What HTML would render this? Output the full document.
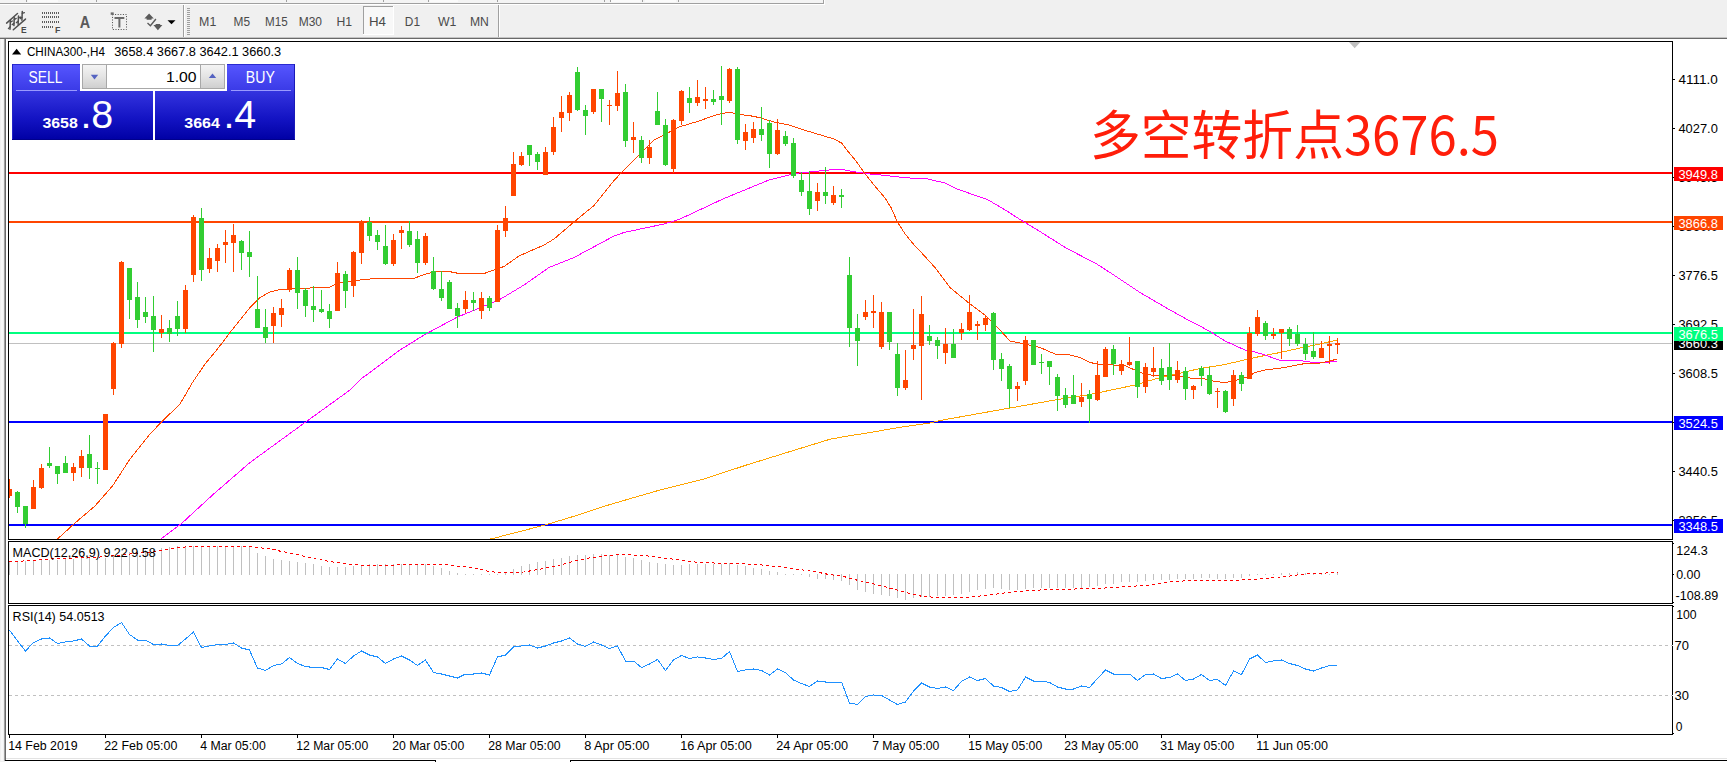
<!DOCTYPE html>
<html lang="zh"><head><meta charset="utf-8"><title>CHINA300 H4</title>
<style>html,body{margin:0;padding:0;background:#fff;overflow:hidden}body{width:1727px;height:762px;position:relative}svg{display:block;position:absolute;left:0;top:0}text{font-family:"Liberation Sans", sans-serif;white-space:pre}.c{shape-rendering:crispEdges}</style></head><body>
<svg width="1727" height="762" viewBox="0 0 1727 762">
<defs><linearGradient id="gt" x1="0" y1="0" x2="0" y2="1"><stop offset="0" stop-color="#5656ff"/><stop offset="1" stop-color="#3a3ae6"/></linearGradient><linearGradient id="gb" x1="0" y1="0" x2="0" y2="1"><stop offset="0" stop-color="#3434df"/><stop offset="0.55" stop-color="#1414c4"/><stop offset="1" stop-color="#0000a4"/></linearGradient><linearGradient id="gs" x1="0" y1="0" x2="0" y2="1"><stop offset="0" stop-color="#f4f4f4"/><stop offset="0.5" stop-color="#e4e4e4"/><stop offset="1" stop-color="#cfcfcf"/></linearGradient><clipPath id="cm"><rect x="9" y="42" width="1663" height="497"/></clipPath><clipPath id="cmacd"><rect x="9" y="542" width="1663" height="61"/></clipPath><clipPath id="crsi"><rect x="9" y="606" width="1663" height="128"/></clipPath></defs>
<g class="c">
<rect x="0" y="0" width="1727" height="762" fill="#ffffff" />
<rect x="0" y="0" width="1727" height="37" fill="#f0f0f0" />
<rect x="0" y="0" width="823" height="3" fill="#f4f4f4" />
<rect x="0" y="3" width="824" height="1" fill="#a0a0a0" />
<rect x="823" y="0" width="1" height="4" fill="#a0a0a0" />
<rect x="0" y="4" width="825" height="1" fill="#ffffff" />
<rect x="824" y="0" width="1" height="4" fill="#ffffff" />
<rect x="28" y="0" width="30" height="2" fill="#fbfbfb" />
<rect x="430" y="0" width="28" height="2" fill="#fbfbfb" />
<rect x="611" y="0" width="29" height="2" fill="#fbfbfb" />
<rect x="645" y="0" width="31" height="2" fill="#fbfbfb" />
<rect x="26" y="0" width="1" height="2" fill="#a0a0a0" />
<rect x="96" y="0" width="1" height="2" fill="#a0a0a0" />
<rect x="286" y="0" width="1" height="2" fill="#a0a0a0" />
<rect x="383" y="0" width="1" height="2" fill="#a0a0a0" />
<rect x="428" y="0" width="1" height="2" fill="#a0a0a0" />
<rect x="497" y="0" width="1" height="2" fill="#a0a0a0" />
<rect x="604" y="0" width="1" height="2" fill="#a0a0a0" />
<rect x="610" y="0" width="1" height="2" fill="#a0a0a0" />
<rect x="642" y="0" width="1" height="2" fill="#a0a0a0" />
<rect x="678" y="0" width="1" height="2" fill="#a0a0a0" />
<rect x="0" y="37" width="1727" height="1" fill="#c4c4c4" />
<rect x="0" y="38" width="1727" height="1" fill="#696969" />
<rect x="0" y="39" width="4" height="723" fill="#f0f0f0" />
<rect x="1" y="39" width="2" height="723" fill="#f8f8f8" />
<rect x="4" y="39" width="1" height="722" fill="#a0a0a0" />
<rect x="5" y="39" width="1" height="722" fill="#696969" />
<rect x="6" y="758" width="1721" height="1" fill="#e3e3e3" />
<rect x="5" y="760" width="431" height="1" fill="#000" />
<rect x="435" y="760" width="1" height="2" fill="#000" />
<rect x="570" y="760" width="1157" height="1" fill="#000" />
<rect x="570" y="760" width="1" height="2" fill="#000" />
<rect x="0" y="761" width="5" height="1" fill="#f0f0f0" />
<rect x="183" y="5" width="1" height="32" fill="#a0a0a0" />
<rect x="184" y="5" width="1" height="32" fill="#ffffff" />
<rect x="498" y="5" width="1" height="32" fill="#a0a0a0" />
<rect x="499" y="5" width="1" height="32" fill="#ffffff" />
<rect x="187" y="8" width="3" height="1" fill="#a0a0a0" />
<rect x="187" y="10" width="3" height="1" fill="#a0a0a0" />
<rect x="187" y="12" width="3" height="1" fill="#a0a0a0" />
<rect x="187" y="14" width="3" height="1" fill="#a0a0a0" />
<rect x="187" y="16" width="3" height="1" fill="#a0a0a0" />
<rect x="187" y="18" width="3" height="1" fill="#a0a0a0" />
<rect x="187" y="20" width="3" height="1" fill="#a0a0a0" />
<rect x="187" y="22" width="3" height="1" fill="#a0a0a0" />
<rect x="187" y="24" width="3" height="1" fill="#a0a0a0" />
<rect x="187" y="26" width="3" height="1" fill="#a0a0a0" />
<rect x="187" y="28" width="3" height="1" fill="#a0a0a0" />
<rect x="187" y="30" width="3" height="1" fill="#a0a0a0" />
<rect x="187" y="32" width="3" height="1" fill="#a0a0a0" />
<rect x="187" y="34" width="3" height="1" fill="#a0a0a0" />
<rect x="363" y="6" width="31" height="29" fill="#f8f8f8" />
<rect x="363" y="6" width="31" height="1" fill="#a0a0a0" />
<rect x="363" y="6" width="1" height="29" fill="#a0a0a0" />
<rect x="393" y="6" width="1" height="29" fill="#ffffff" />
<rect x="363" y="34" width="31" height="1" fill="#ffffff" />
</g>
<text x="199.1" y="26" font-size="12" fill="#4a4a4a" textLength="17.2" lengthAdjust="spacingAndGlyphs" >M1</text>
<text x="233.6" y="26" font-size="12" fill="#4a4a4a" textLength="16.5" lengthAdjust="spacingAndGlyphs" >M5</text>
<text x="265.1" y="26" font-size="12" fill="#4a4a4a" textLength="22.6" lengthAdjust="spacingAndGlyphs" >M15</text>
<text x="298.7" y="26" font-size="12" fill="#4a4a4a" textLength="23.3" lengthAdjust="spacingAndGlyphs" >M30</text>
<text x="336.5" y="26" font-size="12" fill="#4a4a4a" textLength="15.6" lengthAdjust="spacingAndGlyphs" >H1</text>
<text x="369.0" y="26" font-size="12" fill="#4a4a4a" textLength="17.0" lengthAdjust="spacingAndGlyphs" >H4</text>
<text x="404.8" y="26" font-size="12" fill="#4a4a4a" textLength="15.2" lengthAdjust="spacingAndGlyphs" >D1</text>
<text x="437.9" y="26" font-size="12" fill="#4a4a4a" textLength="18.5" lengthAdjust="spacingAndGlyphs" >W1</text>
<text x="470.0" y="26" font-size="12" fill="#4a4a4a" textLength="18.9" lengthAdjust="spacingAndGlyphs" >MN</text>
<g stroke="#505050" fill="none" stroke-linecap="round">
<path d="M6.6 23.1 L17.5 13.5 M13.3 29.8 L25.5 19.1" stroke-width="1.5"/>
<path d="M10.4 20.4 L10 29.2 M14.3 17.8 L13.9 25.6 M18.5 16 L18.1 24.4 M22.3 11.4 L21.9 20.2" stroke-width="1.5"/>
<path d="M8.4 28.6 L10.2 26.8 M10.3 22.2 L12.4 21 M12.2 24.6 L14 23.4 M14.2 19.6 L16.2 18.4 M16.4 22.6 L18.2 21.4 M18.4 17.8 L20.4 17 M20.2 18.6 L22 17.4 M22.2 13.4 L24.4 12.6" stroke-width="1.3"/>
</g>
<text x="21" y="32.7" font-size="9" fill="#4a4a4a" textLength="5.6" lengthAdjust="spacingAndGlyphs" font-weight="bold" >E</text>
<g class="c">
<rect x="42" y="12" width="1" height="2" fill="#5c5c5c" />
<rect x="44" y="12" width="1" height="2" fill="#5c5c5c" />
<rect x="46" y="12" width="1" height="2" fill="#5c5c5c" />
<rect x="48" y="12" width="1" height="2" fill="#5c5c5c" />
<rect x="50" y="12" width="1" height="2" fill="#5c5c5c" />
<rect x="52" y="12" width="1" height="2" fill="#5c5c5c" />
<rect x="54" y="12" width="1" height="2" fill="#5c5c5c" />
<rect x="56" y="12" width="1" height="2" fill="#5c5c5c" />
<rect x="58" y="12" width="1" height="2" fill="#5c5c5c" />
<rect x="42" y="16" width="1" height="2" fill="#5c5c5c" />
<rect x="44" y="16" width="1" height="2" fill="#5c5c5c" />
<rect x="46" y="16" width="1" height="2" fill="#5c5c5c" />
<rect x="48" y="16" width="1" height="2" fill="#5c5c5c" />
<rect x="50" y="16" width="1" height="2" fill="#5c5c5c" />
<rect x="52" y="16" width="1" height="2" fill="#5c5c5c" />
<rect x="54" y="16" width="1" height="2" fill="#5c5c5c" />
<rect x="56" y="16" width="1" height="2" fill="#5c5c5c" />
<rect x="58" y="16" width="1" height="2" fill="#5c5c5c" />
<rect x="42" y="21" width="1" height="2" fill="#5c5c5c" />
<rect x="44" y="21" width="1" height="2" fill="#5c5c5c" />
<rect x="46" y="21" width="1" height="2" fill="#5c5c5c" />
<rect x="48" y="21" width="1" height="2" fill="#5c5c5c" />
<rect x="50" y="21" width="1" height="2" fill="#5c5c5c" />
<rect x="52" y="21" width="1" height="2" fill="#5c5c5c" />
<rect x="54" y="21" width="1" height="2" fill="#5c5c5c" />
<rect x="56" y="21" width="1" height="2" fill="#5c5c5c" />
<rect x="58" y="21" width="1" height="2" fill="#5c5c5c" />
<rect x="42" y="26" width="1" height="2" fill="#5c5c5c" />
<rect x="44" y="26" width="1" height="2" fill="#5c5c5c" />
<rect x="46" y="26" width="1" height="2" fill="#5c5c5c" />
<rect x="48" y="26" width="1" height="2" fill="#5c5c5c" />
<rect x="50" y="26" width="1" height="2" fill="#5c5c5c" />
<rect x="52" y="26" width="1" height="2" fill="#5c5c5c" />
</g>
<text x="55" y="32.7" font-size="9" fill="#4a4a4a" textLength="5.4" lengthAdjust="spacingAndGlyphs" font-weight="bold" >F</text>
<text x="79.8" y="27.5" font-size="16" fill="#5a5a5a" textLength="10.4" lengthAdjust="spacingAndGlyphs" font-weight="bold" >A</text>
<rect x="112.5" y="14.5" width="14" height="15" fill="none" stroke="#4a4a4a" stroke-width="1" stroke-dasharray="1 1.6"/>
<path d="M114.5 17.9 H124.3 M119.4 17.9 V27.5" stroke="#6a6a6a" stroke-width="2" fill="none"/>
<rect x="110.7" y="12.4" width="3" height="2.4" fill="#6a6a6a" />
<g fill="#5a5a5a">
<path d="M149.1 13.4 L153.8 18.5 L151.6 18.5 L151.6 19.8 L146.6 19.8 L146.6 18.5 L144.4 18.5 Z"/>
<path d="M157.9 30.2 L153.4 25.1 L155.6 25.1 L155.6 23.9 L160.2 23.9 L160.2 25.1 L162.4 25.1 Z"/>
</g>
<path d="M147.5 23.1 L150.4 25.7 L155.9 19" stroke="#5a5a5a" stroke-width="1.4" fill="none"/>
<path d="M167.5 20.2 L175.5 20.2 L171.5 24.2 Z" fill="#000"/>
<g class="c">
<rect x="8" y="41" width="1665" height="1" fill="#000" />
<rect x="8" y="539" width="1665" height="1" fill="#000" />
<rect x="8" y="41" width="1" height="499" fill="#000" />
<rect x="1672" y="41" width="1" height="499" fill="#000" />
<rect x="8" y="541" width="1665" height="1" fill="#000" />
<rect x="8" y="603" width="1665" height="1" fill="#000" />
<rect x="8" y="541" width="1" height="63" fill="#000" />
<rect x="1672" y="541" width="1" height="63" fill="#000" />
<rect x="8" y="605" width="1665" height="1" fill="#000" />
<rect x="8" y="734" width="1665" height="1" fill="#000" />
<rect x="8" y="605" width="1" height="130" fill="#000" />
<rect x="1672" y="605" width="1" height="130" fill="#000" />
</g>
<path d="M1349 42 L1360.4 42 L1354.7 48.2 Z" fill="#c0c0c0"/>
<g clip-path="url(#cm)">
<g class="c">
<rect x="9" y="343" width="1663" height="1" fill="#c0c0c0" />
<rect x="9" y="172" width="1663" height="2" fill="#ff0000" />
<rect x="9" y="221" width="1663" height="2" fill="#ff4500" />
<rect x="9" y="332" width="1663" height="2" fill="#00ff7f" />
<rect x="9" y="421" width="1663" height="2" fill="#0000ff" />
<rect x="9" y="524" width="1663" height="2" fill="#0000ff" />
</g>
<polyline points="490,539 493.75,538.25 545,525 570,517.5 610,504.5 660,490 705,478.75 745,465.5 795,450 830,439.25 845,436.5 870,432.5 901.75,427 930,423 940,420.5 1010,408 1055,400 1090,394.5 1135,385 1155,379 1200,368.5 1225,364.5 1255,357.5 1280,352.5 1302.5,347.5 1320,344 1337,340" fill="none" stroke="#ffa500" stroke-width="1" shape-rendering="crispEdges" />
<polyline points="161,539 181,524 212.5,495 250,462.5 305,422.5 350,390 361,379 400,350 424,335 456.5,317.5 499,300 524,285 549,267.5 574,257.5 614,236 624,232.5 664,224 679,219.5 724,198.5 769,180 789,175 799,173 819,171 839,169 853.6,171.6 870.2,174.1 885.3,175.4 900.4,177.2 912.4,178.2 924.5,178.2 945.6,183.2 957.7,189.2 987.9,199.8 1006,210.4 1021.1,220.2 1036.2,229.2 1066.3,248.1 1070,250 1096.5,263.9 1110,272.5 1140,292.5 1170,310 1190,321 1200,326 1212.5,333 1225,341 1245,350 1255,352 1265,355 1280,360.5 1300,360.5 1310,362 1325,362.5 1337,361" fill="none" stroke="#ff00ff" stroke-width="1" shape-rendering="crispEdges" />
<polyline points="57.5,539 75,523 95,506 112.5,486 130,459 150,434 162.5,421 180,404 192.5,382.5 205,364 217.5,349 230,332.5 250,307.5 260,297.5 270,292 280,289.5 300,288.5 330,287 337.5,283 355,280.5 375,278.5 385,279 415,278 424,274.5 439,271 449,271.5 459,273.5 484,273.5 494,270 504,266.5 519,256 544,245 554,239 574,222 594,205.5 614,180.5 624,170 639,155 654,140 664,135 679,127 699,121 714,115.5 729,112 739,114.5 749,115.5 759,117.5 774,122 789,125 804,130 819,134.5 834,139 841.5,143 846.8,150 856,161 864.1,172.6 876.2,187.7 885.3,198.3 891.3,208.1 897.3,221.7 904.9,233.7 915.4,246.6 919,250 935,267.5 950,287.5 970,304 985,315 1000,330 1010,341 1025,344 1040,347.5 1055,354 1070,355 1080,357.5 1090,362.5 1100,364.5 1125,365.5 1140,372.5 1155,376 1175,375 1190,378 1205,379 1212.5,381 1225,382.75 1237.5,380 1247.5,377 1255,372.5 1265,370 1285,367.5 1302.5,364 1320,363 1330,361 1337,359" fill="none" stroke="#ff4500" stroke-width="1" shape-rendering="crispEdges" />
<g class="c">
<path d="M9 479h1v19h-1zM7 489h5v7h-5zM33 480h1v29h-1zM31 487h5v22h-5zM41 464h1v25h-1zM39 468h5v20h-5zM73 463h1v18h-1zM71 467h5v6h-5zM81 450h1v27h-1zM79 456h5v12h-5zM105 414h1v56h-1zM103 414h5v56h-5zM113 342h1v53h-1zM111 343h5v46h-5zM121 261h1v87h-1zM119 262h5v82h-5zM161 315h1v23h-1zM159 329h5v4h-5zM185 285h1v48h-1zM183 290h5v39h-5zM193 215h1v67h-1zM191 217h5v58h-5zM209 248h1v25h-1zM207 258h5v11h-5zM217 244h1v28h-1zM215 248h5v13h-5zM225 230h1v33h-1zM223 242h5v3h-5zM233 224h1v48h-1zM231 235h5v8h-5zM273 307h1v36h-1zM271 313h5v13h-5zM281 299h1v28h-1zM279 308h5v7h-5zM289 268h1v24h-1zM287 270h5v20h-5zM337 262h1v49h-1zM335 273h5v38h-5zM353 251h1v46h-1zM351 252h5v34h-5zM361 220h1v44h-1zM359 221h5v32h-5zM393 234h1v32h-1zM391 240h5v24h-5zM401 226h1v23h-1zM399 230h5v3h-5zM425 233h1v32h-1zM423 236h5v27h-5zM465 291h1v22h-1zM463 300h5v9h-5zM481 292h1v27h-1zM479 298h5v13h-5zM497 225h1v77h-1zM495 230h5v72h-5zM505 206h1v31h-1zM503 218h5v13h-5zM513 152h1v44h-1zM511 164h5v32h-5zM521 152h1v14h-1zM519 156h5v9h-5zM545 147h1v28h-1zM543 152h5v23h-5zM553 117h1v38h-1zM551 127h5v25h-5zM561 96h1v36h-1zM559 112h5v6h-5zM569 92h1v29h-1zM567 95h5v18h-5zM593 89h1v25h-1zM591 89h5v23h-5zM609 100h1v25h-1zM607 105h5v1h-5zM617 71h1v40h-1zM615 93h5v13h-5zM633 122h1v31h-1zM631 137h5v3h-5zM649 140h1v24h-1zM647 147h5v11h-5zM673 119h1v54h-1zM671 120h5v49h-5zM681 90h1v35h-1zM679 91h5v30h-5zM697 80h1v26h-1zM695 97h5v6h-5zM705 87h1v22h-1zM703 99h5v2h-5zM729 68h1v35h-1zM727 69h5v32h-5zM745 124h1v26h-1zM743 132h5v9h-5zM753 122h1v21h-1zM751 129h5v9h-5zM777 119h1v36h-1zM775 130h5v24h-5zM817 183h1v28h-1zM815 192h5v9h-5zM833 186h1v19h-1zM831 195h5v8h-5zM865 300h1v20h-1zM863 312h5v5h-5zM873 295h1v33h-1zM871 311h5v2h-5zM881 302h1v47h-1zM879 312h5v35h-5zM905 350h1v40h-1zM903 380h5v8h-5zM913 309h1v51h-1zM911 345h5v4h-5zM921 296h1v104h-1zM919 314h5v32h-5zM945 328h1v36h-1zM943 344h5v9h-5zM961 323h1v17h-1zM959 329h5v4h-5zM969 295h1v36h-1zM967 312h5v18h-5zM977 321h1v19h-1zM975 324h5v2h-5zM985 315h1v16h-1zM983 318h5v7h-5zM1017 382h1v19h-1zM1015 386h5v3h-5zM1025 336h1v49h-1zM1023 340h5v41h-5zM1081 383h1v24h-1zM1079 397h5v5h-5zM1097 361h1v40h-1zM1095 375h5v25h-5zM1105 347h1v30h-1zM1103 349h5v28h-5zM1121 360h1v15h-1zM1119 364h5v7h-5zM1129 337h1v29h-1zM1127 362h5v3h-5zM1145 363h1v30h-1zM1143 367h5v20h-5zM1153 347h1v30h-1zM1151 368h5v4h-5zM1177 361h1v22h-1zM1175 370h5v10h-5zM1193 385h1v14h-1zM1191 386h5v4h-5zM1217 388h1v20h-1zM1215 391h5v1h-5zM1233 370h1v36h-1zM1231 375h5v24h-5zM1249 327h1v52h-1zM1247 333h5v46h-5zM1257 310h1v26h-1zM1255 317h5v17h-5zM1273 328h1v11h-1zM1271 334h5v2h-5zM1281 329h1v30h-1zM1279 329h5v4h-5zM1321 341h1v17h-1zM1319 348h5v10h-5zM1329 336h1v28h-1zM1327 344h5v2h-5zM1337 338h1v16h-1zM1335 343h5v2h-5z" fill="#ff4500"/>
<path d="M17 491h1v22h-1zM15 492h5v15h-5zM25 506h1v22h-1zM23 506h5v18h-5zM49 447h1v21h-1zM47 463h5v3h-5zM57 466h1v18h-1zM55 466h5v8h-5zM65 456h1v17h-1zM63 463h5v10h-5zM89 435h1v44h-1zM87 454h5v14h-5zM97 462h1v22h-1zM95 468h5v1h-5zM129 268h1v51h-1zM127 268h5v32h-5zM137 282h1v46h-1zM135 297h5v23h-5zM145 297h1v26h-1zM143 312h5v5h-5zM153 296h1v56h-1zM151 316h5v14h-5zM169 320h1v22h-1zM167 328h5v6h-5zM177 301h1v35h-1zM175 316h5v13h-5zM201 208h1v73h-1zM199 218h5v52h-5zM241 240h1v30h-1zM239 241h5v12h-5zM249 231h1v46h-1zM247 252h5v5h-5zM257 276h1v52h-1zM255 309h5v19h-5zM265 309h1v34h-1zM263 327h5v11h-5zM297 257h1v52h-1zM295 270h5v23h-5zM305 288h1v29h-1zM303 290h5v16h-5zM313 286h1v36h-1zM311 306h5v4h-5zM321 290h1v23h-1zM319 309h5v3h-5zM329 304h1v24h-1zM327 311h5v8h-5zM345 271h1v37h-1zM343 274h5v17h-5zM369 217h1v24h-1zM367 222h5v14h-5zM377 230h1v20h-1zM375 235h5v7h-5zM385 225h1v40h-1zM383 246h5v18h-5zM409 221h1v26h-1zM407 231h5v14h-5zM417 231h1v42h-1zM415 239h5v24h-5zM433 257h1v33h-1zM431 271h5v18h-5zM441 271h1v30h-1zM439 289h5v9h-5zM449 280h1v29h-1zM447 282h5v27h-5zM457 303h1v25h-1zM455 308h5v8h-5zM473 292h1v19h-1zM471 300h5v3h-5zM489 296h1v15h-1zM487 298h5v10h-5zM529 145h1v21h-1zM527 145h5v10h-5zM537 152h1v18h-1zM535 154h5v8h-5zM577 67h1v44h-1zM575 72h5v38h-5zM585 105h1v30h-1zM583 110h5v6h-5zM601 89h1v33h-1zM599 89h5v10h-5zM625 84h1v63h-1zM623 92h5v49h-5zM641 136h1v27h-1zM639 140h5v18h-5zM657 92h1v33h-1zM655 111h5v14h-5zM665 119h1v47h-1zM663 125h5v40h-5zM689 87h1v26h-1zM687 98h5v5h-5zM713 90h1v15h-1zM711 99h5v3h-5zM721 66h1v59h-1zM719 96h5v4h-5zM737 67h1v77h-1zM735 69h5v71h-5zM761 107h1v34h-1zM759 129h5v6h-5zM769 120h1v48h-1zM767 123h5v31h-5zM785 131h1v15h-1zM783 136h5v8h-5zM793 138h1v40h-1zM791 143h5v33h-5zM801 172h1v24h-1zM799 180h5v12h-5zM809 171h1v44h-1zM807 191h5v18h-5zM825 167h1v37h-1zM823 192h5v4h-5zM841 189h1v19h-1zM839 195h5v2h-5zM849 257h1v90h-1zM847 275h5v53h-5zM857 314h1v52h-1zM855 328h5v13h-5zM889 312h1v38h-1zM887 312h5v30h-5zM897 343h1v53h-1zM895 354h5v34h-5zM929 325h1v20h-1zM927 336h5v5h-5zM937 337h1v22h-1zM935 340h5v6h-5zM953 329h1v29h-1zM951 344h5v14h-5zM993 312h1v58h-1zM991 313h5v47h-5zM1001 353h1v28h-1zM999 359h5v10h-5zM1009 364h1v44h-1zM1007 366h5v23h-5zM1033 340h1v25h-1zM1031 340h5v25h-5zM1041 354h1v20h-1zM1039 362h5v1h-5zM1049 361h1v24h-1zM1047 361h5v6h-5zM1057 374h1v37h-1zM1055 377h5v19h-5zM1065 388h1v20h-1zM1063 395h5v10h-5zM1073 375h1v29h-1zM1071 395h5v9h-5zM1089 390h1v33h-1zM1087 394h5v5h-5zM1113 345h1v30h-1zM1111 349h5v15h-5zM1137 361h1v37h-1zM1135 361h5v26h-5zM1161 359h1v26h-1zM1159 368h5v13h-5zM1169 343h1v47h-1zM1167 367h5v13h-5zM1185 367h1v33h-1zM1183 371h5v18h-5zM1201 366h1v20h-1zM1199 368h5v8h-5zM1209 367h1v28h-1zM1207 375h5v19h-5zM1225 390h1v23h-1zM1223 391h5v21h-5zM1241 372h1v19h-1zM1239 375h5v9h-5zM1265 321h1v19h-1zM1263 323h5v13h-5zM1289 327h1v19h-1zM1287 329h5v10h-5zM1297 325h1v21h-1zM1295 334h5v10h-5zM1305 338h1v22h-1zM1303 344h5v10h-5zM1313 332h1v27h-1zM1311 351h5v6h-5z" fill="#32cd32"/>
</g>
</g>
<text x="0" y="0" font-size="50" fill="#ff1e0a" style='font-family:"Noto Sans CJK SC", "Liberation Sans", sans-serif' transform="translate(1090 154.6) scale(1.016 1.072)">多空转折点3676.5</text>
<path d="M12 54.4 L21.2 54.4 L16.6 48.8 Z" fill="#000"/>
<text x="26.9" y="56" font-size="12" fill="#000" textLength="78" lengthAdjust="spacingAndGlyphs" >CHINA300-,H4</text>
<text x="114.2" y="56" font-size="12" fill="#000" textLength="167" lengthAdjust="spacingAndGlyphs" >3658.4 3667.8 3642.1 3660.3</text>
<g class="c">
<rect x="12" y="64" width="68" height="27" fill="url(#gt)" />
<rect x="227" y="64" width="68" height="27" fill="url(#gt)" />
<rect x="12" y="91" width="141" height="49" fill="url(#gb)" />
<rect x="155" y="91" width="140" height="49" fill="url(#gb)" />
<rect x="12" y="64" width="68" height="1" fill="#2a2ad0" />
<rect x="12" y="64" width="1" height="76" fill="#2222c8" />
<rect x="227" y="64" width="68" height="1" fill="#2a2ad0" />
<rect x="294" y="64" width="1" height="76" fill="#1a1ab8" />
<rect x="12" y="139" width="141" height="1" fill="#00008c" />
<rect x="155" y="139" width="140" height="1" fill="#00008c" />
<rect x="16" y="90" width="61" height="1" fill="#9a9aff" />
<rect x="231" y="90" width="60" height="1" fill="#9a9aff" />
<rect x="82" y="64" width="143" height="25" fill="#a8a8a8" />
<rect x="83" y="65" width="141" height="23" fill="#ffffff" />
<rect x="83" y="65" width="23" height="23" fill="url(#gs)" />
<rect x="106" y="65" width="1" height="23" fill="#a8a8a8" />
<rect x="201" y="65" width="23" height="23" fill="url(#gs)" />
<rect x="200" y="65" width="1" height="23" fill="#a8a8a8" />
</g>
<path d="M90.8 74.8 L98.2 74.8 L94.5 79.4 Z" fill="#5563c1"/>
<path d="M208.8 78 L216.2 78 L212.5 73.4 Z" fill="#5563c1"/>
<text x="28.6" y="83" font-size="15.8" fill="#fff" textLength="33.8" lengthAdjust="spacingAndGlyphs" >SELL</text>
<text x="245.8" y="83" font-size="15.8" fill="#fff" textLength="29" lengthAdjust="spacingAndGlyphs" >BUY</text>
<text x="166" y="82" font-size="15.4" fill="#000" textLength="30.6" lengthAdjust="spacingAndGlyphs" >1.00</text>
<text x="42.4" y="128.4" font-size="14" fill="#fff" textLength="35.4" lengthAdjust="spacingAndGlyphs" font-weight="bold" >3658</text>
<text x="184.3" y="128.4" font-size="14" fill="#fff" textLength="35.6" lengthAdjust="spacingAndGlyphs" font-weight="bold" >3664</text>
<text x="80.4" y="128.4" font-size="38.5" fill="#fff" textLength="32.9" lengthAdjust="spacingAndGlyphs" >.8</text>
<text x="223.4" y="128.4" font-size="38.5" fill="#fff" textLength="32.9" lengthAdjust="spacingAndGlyphs" >.4</text>
<g class="c">
<rect x="1673" y="79" width="2" height="1" fill="#000" />
<rect x="1673" y="128" width="2" height="1" fill="#000" />
<rect x="1673" y="177" width="2" height="1" fill="#000" />
<rect x="1673" y="226" width="2" height="1" fill="#000" />
<rect x="1673" y="275" width="2" height="1" fill="#000" />
<rect x="1673" y="324" width="2" height="1" fill="#000" />
<rect x="1673" y="373" width="2" height="1" fill="#000" />
<rect x="1673" y="422" width="2" height="1" fill="#000" />
<rect x="1673" y="471" width="2" height="1" fill="#000" />
<rect x="1673" y="520" width="2" height="1" fill="#000" />
</g>
<text x="1678.4" y="84" font-size="12" fill="#000" textLength="39.4" lengthAdjust="spacingAndGlyphs" >4111.0</text>
<text x="1678.4" y="133" font-size="12" fill="#000" textLength="39.4" lengthAdjust="spacingAndGlyphs" >4027.0</text>
<text x="1678.4" y="182" font-size="12" fill="#000" textLength="39.4" lengthAdjust="spacingAndGlyphs" >3943.5</text>
<text x="1678.4" y="231" font-size="12" fill="#000" textLength="39.4" lengthAdjust="spacingAndGlyphs" >3860.0</text>
<text x="1678.4" y="280" font-size="12" fill="#000" textLength="39.4" lengthAdjust="spacingAndGlyphs" >3776.5</text>
<text x="1678.4" y="329" font-size="12" fill="#000" textLength="39.4" lengthAdjust="spacingAndGlyphs" >3692.5</text>
<text x="1678.4" y="378" font-size="12" fill="#000" textLength="39.4" lengthAdjust="spacingAndGlyphs" >3608.5</text>
<text x="1678.4" y="427" font-size="12" fill="#000" textLength="39.4" lengthAdjust="spacingAndGlyphs" >3524.5</text>
<text x="1678.4" y="476" font-size="12" fill="#000" textLength="39.4" lengthAdjust="spacingAndGlyphs" >3440.5</text>
<text x="1678.4" y="525" font-size="12" fill="#000" textLength="39.4" lengthAdjust="spacingAndGlyphs" >3356.5</text>
<g class="c">
<rect x="1674" y="337" width="49" height="13" fill="#000" />
<rect x="1674" y="327" width="49" height="14" fill="#00ff7f" />
<rect x="1674" y="167" width="49" height="14" fill="#ff0000" />
<rect x="1674" y="216" width="49" height="14" fill="#ff4500" />
<rect x="1674" y="416" width="49" height="14" fill="#0000ff" />
<rect x="1674" y="519" width="49" height="14" fill="#0000ff" />
</g>
<clipPath id="cb"><rect x="1674" y="341" width="49" height="9"/></clipPath>
<text x="1678.4" y="348" font-size="12" fill="#fff" textLength="39.4" lengthAdjust="spacingAndGlyphs" clip-path="url(#cb)">3660.3</text>
<text x="1678.4" y="339" font-size="12" fill="#fff" textLength="39.4" lengthAdjust="spacingAndGlyphs" >3676.5</text>
<text x="1678.4" y="179" font-size="12" fill="#fff" textLength="39.4" lengthAdjust="spacingAndGlyphs" >3949.8</text>
<text x="1678.4" y="228" font-size="12" fill="#fff" textLength="39.4" lengthAdjust="spacingAndGlyphs" >3866.8</text>
<text x="1678.4" y="428" font-size="12" fill="#fff" textLength="39.4" lengthAdjust="spacingAndGlyphs" >3524.5</text>
<text x="1678.4" y="531" font-size="12" fill="#fff" textLength="39.4" lengthAdjust="spacingAndGlyphs" >3348.5</text>
<g clip-path="url(#cmacd)">
<g class="c">
<path d="M9 562h1v13h-1zM17 561h1v14h-1zM25 561h1v14h-1zM33 560h1v15h-1zM41 560h1v15h-1zM49 560h1v15h-1zM57 560h1v15h-1zM65 559h1v16h-1zM73 559h1v16h-1zM81 558h1v17h-1zM89 558h1v17h-1zM97 558h1v17h-1zM105 558h1v17h-1zM113 556h1v19h-1zM121 554h1v21h-1zM129 552h1v23h-1zM137 551h1v24h-1zM145 550h1v25h-1zM153 549h1v26h-1zM161 548h1v27h-1zM169 547h1v28h-1zM177 546h1v29h-1zM185 546h1v29h-1zM193 546h1v29h-1zM201 546h1v29h-1zM209 546h1v29h-1zM217 546h1v29h-1zM225 546h1v29h-1zM233 546h1v29h-1zM241 546h1v29h-1zM249 546h1v29h-1zM257 553h1v22h-1zM265 556h1v19h-1zM273 559h1v16h-1zM281 560h1v15h-1zM289 561h1v14h-1zM297 562h1v13h-1zM305 563h1v12h-1zM313 564h1v11h-1zM321 566h1v9h-1zM329 567h1v8h-1zM337 567h1v8h-1zM345 567h1v8h-1zM353 566h1v9h-1zM361 565h1v10h-1zM369 564h1v11h-1zM377 564h1v11h-1zM385 564h1v11h-1zM393 564h1v11h-1zM401 564h1v11h-1zM409 564h1v11h-1zM417 564h1v11h-1zM425 564h1v11h-1zM433 566h1v9h-1zM441 568h1v7h-1zM449 571h1v4h-1zM457 573h1v2h-1zM465 574h1v1h-1zM473 574h1v1h-1zM481 574h1v1h-1zM489 574h1v1h-1zM497 574h1v1h-1zM505 572h1v3h-1zM513 569h1v6h-1zM521 566h1v9h-1zM529 564h1v11h-1zM537 562h1v13h-1zM545 561h1v14h-1zM553 559h1v16h-1zM561 558h1v17h-1zM569 556h1v19h-1zM577 555h1v20h-1zM585 555h1v20h-1zM593 554h1v21h-1zM601 554h1v21h-1zM609 555h1v20h-1zM617 555h1v20h-1zM625 557h1v18h-1zM633 558h1v17h-1zM641 560h1v15h-1zM649 562h1v13h-1zM657 563h1v12h-1zM665 564h1v11h-1zM673 565h1v10h-1zM681 565h1v10h-1zM689 564h1v11h-1zM697 564h1v11h-1zM705 564h1v11h-1zM713 564h1v11h-1zM721 564h1v11h-1zM729 563h1v12h-1zM737 565h1v10h-1zM745 566h1v9h-1zM753 568h1v7h-1zM761 569h1v6h-1zM769 571h1v4h-1zM777 572h1v3h-1zM785 574h1v1h-1zM793 574h1v1h-1zM801 574h1v1h-1zM809 574h1v3h-1zM817 574h1v5h-1zM825 574h1v5h-1zM833 574h1v6h-1zM841 574h1v7h-1zM849 574h1v11h-1zM857 574h1v16h-1zM865 574h1v18h-1zM873 574h1v20h-1zM881 574h1v21h-1zM889 574h1v22h-1zM897 574h1v24h-1zM905 574h1v26h-1zM913 574h1v24h-1zM921 574h1v23h-1zM929 574h1v23h-1zM937 574h1v22h-1zM945 574h1v22h-1zM953 574h1v21h-1zM961 574h1v20h-1zM969 574h1v18h-1zM977 574h1v16h-1zM985 574h1v15h-1zM993 574h1v14h-1zM1001 574h1v15h-1zM1009 574h1v16h-1zM1017 574h1v16h-1zM1025 574h1v15h-1zM1033 574h1v14h-1zM1041 574h1v14h-1zM1049 574h1v14h-1zM1057 574h1v14h-1zM1065 574h1v14h-1zM1073 574h1v14h-1zM1081 574h1v14h-1zM1089 574h1v13h-1zM1097 574h1v12h-1zM1105 574h1v10h-1zM1113 574h1v10h-1zM1121 574h1v8h-1zM1129 574h1v8h-1zM1137 574h1v8h-1zM1145 574h1v7h-1zM1153 574h1v6h-1zM1161 574h1v6h-1zM1169 574h1v6h-1zM1177 574h1v5h-1zM1185 574h1v5h-1zM1193 574h1v5h-1zM1201 574h1v4h-1zM1209 574h1v4h-1zM1217 574h1v5h-1zM1225 574h1v5h-1zM1233 574h1v4h-1zM1241 574h1v4h-1zM1249 574h1v2h-1zM1257 574h1v1h-1zM1265 574h1v1h-1zM1273 574h1v1h-1zM1281 573h1v2h-1zM1289 573h1v2h-1zM1297 572h1v3h-1zM1305 573h1v2h-1zM1313 573h1v2h-1zM1321 574h1v1h-1zM1329 574h1v1h-1zM1337 573h1v2h-1z" fill="#c0c0c0"/>
</g>
<polyline points="9.5,562 50,559 100,557 150,552 175,548 190,546.5 250,546.5 262,548 274,549.3 280.5,551.3 292.6,553.4 304.6,556.5 322,559.4 328.7,561.5 346,563.4 352,564.5 370,565.5 394,565.5 400,564.6 424,564.75 449,565 474,568 489,571.5 499,572.5 524,572 549,567.5 564,564 574,561 589,558 599,556.5 609,555.5 624,554.5 644,555.5 664,558 684,560.5 699,562.5 714,563 734,563.5 759,564.5 769,566 784,567 799,569.5 814,571.5 829,574.5 844,576.5 850,578.5 865,582 880,585.5 895,589.5 910,593.5 922.5,596.5 940,597.5 950,598 970,597 990,595 1015,591.5 1040,590 1065,589.25 1085,588.75 1105,588 1130,586.5 1155,584.5 1170,582 1190,580.5 1215,580.25 1240,580 1265,578.5 1290,576 1305,574 1322.5,573.5 1330,572.5 1337.5,572.5" fill="none" stroke="#ff0000" stroke-width="1" shape-rendering="crispEdges" stroke-dasharray="3 3"/>
</g>
<text x="12.6" y="557" font-size="12" fill="#000" textLength="143.2" lengthAdjust="spacingAndGlyphs" >MACD(12,26,9) 9.22 9.58</text>
<g class="c">
<rect x="1673" y="543" width="1" height="1" fill="#000" />
<rect x="1673" y="574" width="1" height="1" fill="#000" />
<rect x="1673" y="602" width="1" height="1" fill="#000" />
</g>
<text x="1676.2" y="555" font-size="12" fill="#000" textLength="31.6" lengthAdjust="spacingAndGlyphs" >124.3</text>
<text x="1676.2" y="579" font-size="12" fill="#000" textLength="24.2" lengthAdjust="spacingAndGlyphs" >0.00</text>
<text x="1675.6" y="600" font-size="12" fill="#000" textLength="42.6" lengthAdjust="spacingAndGlyphs" >-108.89</text>
<g clip-path="url(#crsi)">
<path d="M9 645.5 H1672 M9 695.5 H1672" stroke="#c0c0c0" stroke-width="1" stroke-dasharray="3 3" class="c"/>
<polyline points="9.5,630 17.5,641 25.5,651 33.5,642.5 41.5,639 49.5,638 57.5,643.5 65.5,642 73.5,641 81.5,639 89.5,646 97.5,646 105.5,636 113.5,627.5 121.5,622.5 129.5,634.5 137.5,640 145.5,640 153.5,644.5 161.5,644 169.5,645.5 177.5,645.5 185.5,639 193.5,632 201.5,647.5 209.5,646 217.5,644.5 225.5,644.5 233.5,643 241.5,648 249.5,650 257.5,668 265.5,670.5 273.5,665.5 281.5,664 289.5,657.5 297.5,663.5 305.5,666.5 313.5,667.5 321.5,667.5 329.5,669.5 337.5,659 345.5,663.5 353.5,656 361.5,651 369.5,655 377.5,657 385.5,663.5 393.5,659 401.5,656 409.5,660 417.5,665.5 425.5,660 433.5,672.5 441.5,674 449.5,676 457.5,678 465.5,674 473.5,674 481.5,673 489.5,675 497.5,657 505.5,655 513.5,647 521.5,646 529.5,645 537.5,648 545.5,646 553.5,643 561.5,641 569.5,638 577.5,644 585.5,646.5 593.5,642 601.5,645 609.5,648.5 617.5,646 625.5,661 633.5,661 641.5,667.5 649.5,664 657.5,659.5 665.5,670.5 673.5,660 681.5,655.5 689.5,658.5 697.5,657 705.5,658 713.5,659.5 721.5,658.5 729.5,651.5 737.5,671.5 745.5,670 753.5,669 761.5,670.5 769.5,675 777.5,669 785.5,672.5 793.5,680 801.5,683.5 809.5,686.5 817.5,681 825.5,682 833.5,682 841.5,682 849.5,703 857.5,704.5 865.5,696.5 873.5,695 881.5,695.5 889.5,700 897.5,704.5 905.5,702 913.5,691 921.5,683 929.5,687 937.5,688.5 945.5,687 953.5,690.5 961.5,681.5 969.5,677 977.5,680.5 985.5,678.5 993.5,686 1001.5,687.5 1009.5,691.5 1017.5,690 1025.5,677 1033.5,681 1041.5,681 1049.5,682.5 1057.5,687 1065.5,689 1073.5,689 1081.5,686 1089.5,687.5 1097.5,678.5 1105.5,670 1113.5,674 1121.5,674 1129.5,674 1137.5,680.5 1145.5,674.5 1153.5,674 1161.5,678.5 1169.5,677.5 1177.5,674 1185.5,680.5 1193.5,679 1201.5,674.5 1209.5,680.5 1217.5,679.5 1225.5,685.5 1233.5,671 1241.5,674.5 1249.5,659 1257.5,655 1265.5,662.5 1273.5,661 1281.5,660 1289.5,663.5 1297.5,665.5 1305.5,669 1313.5,671 1321.5,668 1329.5,665.5 1337.5,665" fill="none" stroke="#1e90ff" stroke-width="1" shape-rendering="crispEdges" />
</g>
<text x="12.6" y="621" font-size="12" fill="#000" textLength="92" lengthAdjust="spacingAndGlyphs" >RSI(14) 54.0513</text>
<g class="c">
<rect x="1673" y="606" width="1" height="1" fill="#000" />
<rect x="1673" y="733" width="1" height="1" fill="#000" />
<rect x="1672" y="645" width="1" height="1" fill="#d8d8d8" />
<rect x="1672" y="695" width="1" height="1" fill="#d8d8d8" />
</g>
<text x="1676.2" y="619" font-size="12" fill="#000" textLength="20.4" lengthAdjust="spacingAndGlyphs" >100</text>
<text x="1674.6" y="650" font-size="12" fill="#000" textLength="14.4" lengthAdjust="spacingAndGlyphs" >70</text>
<text x="1674.6" y="700" font-size="12" fill="#000" textLength="14.4" lengthAdjust="spacingAndGlyphs" >30</text>
<text x="1675.8" y="731" font-size="12" fill="#000" >0</text>
<g class="c">
<rect x="9" y="735" width="1" height="3" fill="#000" />
<rect x="105" y="735" width="1" height="3" fill="#000" />
<rect x="201" y="735" width="1" height="3" fill="#000" />
<rect x="297" y="735" width="1" height="3" fill="#000" />
<rect x="393" y="735" width="1" height="3" fill="#000" />
<rect x="489" y="735" width="1" height="3" fill="#000" />
<rect x="585" y="735" width="1" height="3" fill="#000" />
<rect x="681" y="735" width="1" height="3" fill="#000" />
<rect x="777" y="735" width="1" height="3" fill="#000" />
<rect x="873" y="735" width="1" height="3" fill="#000" />
<rect x="969" y="735" width="1" height="3" fill="#000" />
<rect x="1065" y="735" width="1" height="3" fill="#000" />
<rect x="1161" y="735" width="1" height="3" fill="#000" />
<rect x="1257" y="735" width="1" height="3" fill="#000" />
</g>
<text x="8.2" y="750" font-size="12" fill="#000" textLength="69.4" lengthAdjust="spacingAndGlyphs" >14 Feb 2019</text>
<text x="104.2" y="750" font-size="12" fill="#000" textLength="73.2" lengthAdjust="spacingAndGlyphs" >22 Feb 05:00</text>
<text x="200.2" y="750" font-size="12" fill="#000" textLength="65.6" lengthAdjust="spacingAndGlyphs" >4 Mar 05:00</text>
<text x="296.2" y="750" font-size="12" fill="#000" textLength="72" lengthAdjust="spacingAndGlyphs" >12 Mar 05:00</text>
<text x="392.2" y="750" font-size="12" fill="#000" textLength="72" lengthAdjust="spacingAndGlyphs" >20 Mar 05:00</text>
<text x="488.2" y="750" font-size="12" fill="#000" textLength="72.4" lengthAdjust="spacingAndGlyphs" >28 Mar 05:00</text>
<text x="584.2" y="750" font-size="12" fill="#000" textLength="65.2" lengthAdjust="spacingAndGlyphs" >8 Apr 05:00</text>
<text x="680.2" y="750" font-size="12" fill="#000" textLength="71.6" lengthAdjust="spacingAndGlyphs" >16 Apr 05:00</text>
<text x="776.2" y="750" font-size="12" fill="#000" textLength="72" lengthAdjust="spacingAndGlyphs" >24 Apr 05:00</text>
<text x="872.2" y="750" font-size="12" fill="#000" textLength="67.2" lengthAdjust="spacingAndGlyphs" >7 May 05:00</text>
<text x="968.2" y="750" font-size="12" fill="#000" textLength="74" lengthAdjust="spacingAndGlyphs" >15 May 05:00</text>
<text x="1064.2" y="750" font-size="12" fill="#000" textLength="74.2" lengthAdjust="spacingAndGlyphs" >23 May 05:00</text>
<text x="1160.2" y="750" font-size="12" fill="#000" textLength="74" lengthAdjust="spacingAndGlyphs" >31 May 05:00</text>
<text x="1256.2" y="750" font-size="12" fill="#000" textLength="71.8" lengthAdjust="spacingAndGlyphs" >11 Jun 05:00</text>
</svg></body></html>
